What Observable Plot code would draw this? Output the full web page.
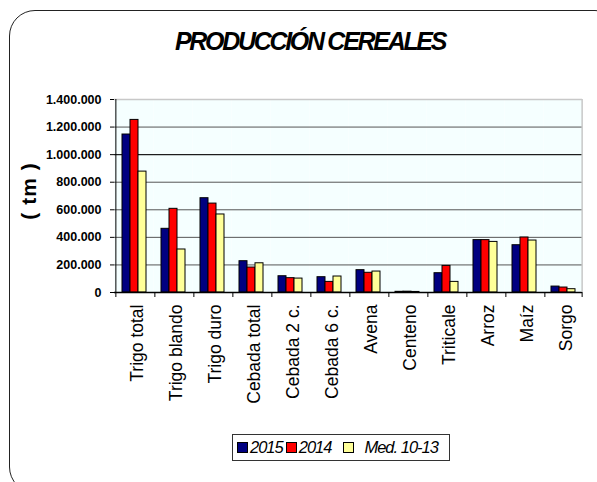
<!DOCTYPE html>
<html>
<head>
<meta charset="utf-8">
<script src="https://cdn.jsdelivr.net/npm/d3@7"></script>
<script src="https://cdn.jsdelivr.net/npm/@observablehq/plot@0.6"></script>
<style>
  html, body { margin: 0; padding: 0; background: #fff; }
  #wrap { position: relative; width: 597px; height: 482px; overflow: hidden; font-family: "Liberation Sans", Arial, sans-serif; }
  #border { position: absolute; left: 9px; top: 10px; width: 612px; height: 483px; border: 1.5px solid #222; border-radius: 26px; box-sizing: border-box; }
  #title { position: absolute; left: 0; width: 620px; top: 27px; text-align: center; font-weight: bold; font-style: italic; font-size: 25px; letter-spacing: -2.3px; color: #000; }
  #ylab { position: absolute; left: 29px; top: 191px; transform: translate(-50%, -50%) rotate(-90deg); font-weight: bold; font-size: 21px; letter-spacing: 1px; white-space: pre; }
  #legend { position: absolute; left: 232px; top: 434px; width: 218px; height: 27px; border: 1px solid #333; box-sizing: border-box; display: flex; align-items: center; font-style: italic; font-size: 16.5px; letter-spacing: -1px; }
  .sw { width: 9px; height: 9px; border: 1px solid #000; display: inline-block; margin-right: 2px; }
  #plot { position: absolute; left: 0; top: 0; }
</style>
</head>
<body>
<div id="wrap">
  <div id="border"></div>
  <div id="plot"></div>
  <div id="title">PRODUCCIÓN CEREALES</div>
  <div id="ylab">( tm )</div>
  <div id="legend"></div>
</div>
<script>
const categories = ["Trigo total","Trigo blando","Trigo duro","Cebada total","Cebada 2 c.","Cebada 6 c.","Avena","Centeno","Triticale","Arroz","Maíz","Sorgo"];
const series = ["2015","2014","Med. 10-13"];
const colors = ["#000080","#FF0000","#FFFF99"];
const v2015 = [1146000, 462000, 684000, 227000, 118000, 111000, 162000, 5000, 140000, 380000, 343000, 43000];
const v2014 = [1252000, 607000, 645000, 181000, 104000, 77000, 143000, 6000, 193000, 380000, 399000, 36000];
const vMed  = [877000, 312000, 566000, 212000, 101000, 116000, 152000, 4000, 77000, 367000, 377000, 24000];
const yTicks = [0, 200000, 400000, 600000, 800000, 1000000, 1200000, 1400000];

const cols = [v2015, v2014, vMed];
const data = [];
categories.forEach((c, i) => series.forEach((s, j) => data.push({cat: c, series: s, value: cols[j][i]})));

const es = d3.formatLocale({decimal: ",", thousands: ".", grouping: [3], currency: ["", "€"]});
const fmt = es.format(",d");

const half = 10.64; // distance from first-bar center to facet edge
const chart = Plot.plot({
  width: 597, height: 482,
  marginLeft: 112, marginRight: 14, marginTop: 99, marginBottom: 190,
  style: {fontFamily: "Liberation Sans, Arial, sans-serif", background: "transparent", overflow: "visible"},
  fx: {domain: categories, padding: 0, label: null},
  x: {domain: series, paddingInner: 0, paddingOuter: 0.68, axis: null},
  y: {domain: [0, 1400000], label: null},
  color: {domain: series, range: colors},
  marks: [
    Plot.frame({fill: "#F5FFFF", stroke: null}),
    Plot.ruleY(yTicks.slice(1, -1), {stroke: "#555", strokeWidth: 1}),
    Plot.ruleY([1000000], {stroke: "#111", strokeWidth: 1}),
    Plot.ruleY([1400000], {stroke: "#c8c8c8", strokeWidth: 1.5}),
    Plot.barY(data, {fx: "cat", x: "series", y: "value", fill: "series", stroke: "#000", strokeWidth: 1}),
    Plot.ruleY([0], {stroke: "#000", strokeWidth: 1.3}),
    Plot.ruleX(categories, {fx: d => d, x: () => series[0], dx: -half, y1: 0, y2: 0, insetBottom: -5, stroke: "#000"}),
    Plot.ruleX(["Sorgo"], {fx: d => d, x: () => series[2], dx: half, y1: 0, y2: 0, insetBottom: -5, stroke: "#000"}),
    Plot.ruleX(["Sorgo"], {fx: d => d, x: () => series[2], dx: half, y1: 0, y2: 1400000, stroke: "#c8c8c8", strokeWidth: 1.5}),
    Plot.ruleX(["Trigo total"], {fx: d => d, x: () => series[0], dx: -half, y1: 0, y2: 1400000, stroke: "#000"}),
    Plot.axisY({ticks: yTicks, tickFormat: fmt, tickSize: 4, tickPadding: 9, fontSize: 12.5, fontWeight: "bold", letterSpacing: "-0.5px", label: null}),
    Plot.axisFx({anchor: "bottom", tickRotate: -90, tickSize: 0, tickPadding: 12, fontSize: 17.5, letterSpacing: "0.8px", label: null, dx: 3})
  ]
});
document.getElementById("plot").appendChild(chart);

const leg = document.getElementById("legend");
series.forEach((s, j) => {
  const item = document.createElement("span");
  item.style.display = "inline-flex";
  item.style.alignItems = "center";
  item.style.marginLeft = j === 0 ? "4px" : (j === 1 ? "3px" : "12px");
  const sw = document.createElement("span");
  sw.className = "sw";
  sw.style.background = colors[j];
  if (j === 2) sw.style.marginRight = "10px";
  item.appendChild(sw);
  item.appendChild(document.createTextNode(s));
  leg.appendChild(item);
});
</script>
</body>
</html>
